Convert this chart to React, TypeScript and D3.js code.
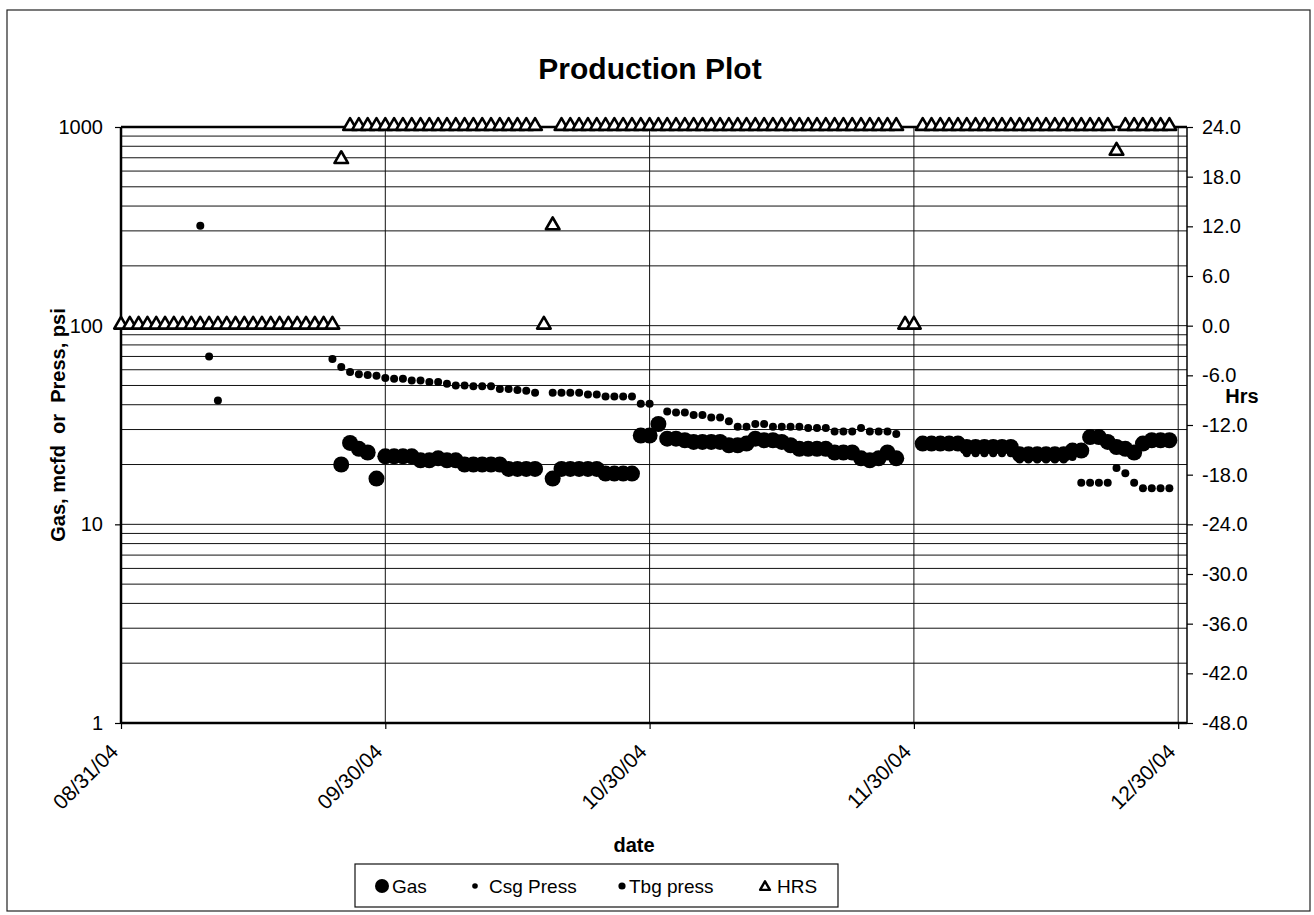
import React from "react";
import * as d3 from "d3";

// x axis is a day count from 08/31/04, labelled every 30 days
const dateLabels = ["08/31/04", "09/30/04", "10/30/04", "11/30/04", "12/30/04"];
const dateTickDays = [0, 30, 60, 90, 120];

// HRS (secondary axis), one value per day starting 08/31/04
const hrsValues = [
  0, 0, 0, 0, 0, 0, 0, 0, 0, 0, 0, 0, 0, 0, 0, 0, 0, 0, 0, 0, 0, 0, 0, 0, 0,
  20,
  24, 24, 24, 24, 24, 24, 24, 24, 24, 24, 24, 24, 24, 24, 24, 24, 24, 24, 24, 24, 24, 24,
  0, 12,
  24, 24, 24, 24, 24, 24, 24, 24, 24, 24, 24, 24, 24, 24, 24, 24, 24, 24, 24, 24,
  24, 24, 24, 24, 24, 24, 24, 24, 24, 24, 24, 24, 24, 24, 24, 24, 24, 24, 24,
  0, 0,
  24, 24, 24, 24, 24, 24, 24, 24, 24, 24, 24, 24, 24, 24, 24, 24, 24, 24, 24, 24, 24, 24,
  21,
  24, 24, 24, 24, 24, 24,
];

// Gas, mcfd from day 25
const gasStart = 25;
const gasValues: (number | null)[] = [
  20, 25.7, 24, 23, 17,
  22, 22, 22, 22,
  21, 21, 21.5, 21, 21,
  20, 20, 20, 20, 20,
  19, 19, 19, 19,
  null, 17,
  19, 19, 19, 19, 19,
  18, 18, 18, 18,
  28, 28, 32, 27, 27,
  26.5, 26, 26, 26, 26,
  25, 25, 25.5, 27, 26.5, 26.5, 26, 25,
  24, 24, 24, 24,
  23, 23, 23,
  21.5, 21, 21.5, 23, 21.5,
  null, null,
  25.5, 25.5, 25.5, 25.5, 25.5,
  24.5, 24.5, 24.5, 24.5, 24.5, 24.5,
  22.5, 22.5, 22.5, 22.5, 22.5, 22.5,
  23.5, 23.5,
  27.5, 27.5, 26, 24.5, 24, 23, 25.5, 26.5, 26.5, 26.5,
];

// Csg Press, psi from day 24
const csgStart = 24;
const csgValues: (number | null)[] = [
  68, 62, 58.5, 57, 56.5, 56, 54.6, 54, 54, 53, 53, 52, 52, 51, 50, 50,
  49.5, 49.5, 49.5, 48, 48, 47.5, 47, 46,
  null,
  46, 46, 46, 46, 45, 45, 44, 44, 44, 44, 40.5, 40.5,
  null, 37, 36.5, 36.5, 35.5, 35.5, 34.5, 34.5, 33, 31, 31, 32, 32,
  31, 31, 31, 31, 30.5, 30.5, 30.5, 29.3, 29.3, 29.3, 30.5, 29.3, 29.3, 29.3, 28.5,
  null, null,
  null, null, null, null, null,
  22.8, 22.8, 22.8, 22.8, 22.8, 22.8,
  21.2, 21.2, 21.2, 21.2, 21.2, 21.2, 21.8,
  16.2, 16.2, 16.2, 16.2, 19.2, 18.1, 16.2, 15.2, 15.2, 15.2, 15.2,
];

// Tbg press, psi from day 9
const tbgStart = 9;
const tbgValues = [318, 70, 42];

const leftTicks = [1, 10, 100, 1000];
const legendLabels = ["Gas", "Csg Press", "Tbg press", "HRS"];

const W = 1314;
const H = 915;
const plot = { left: 121, top: 127, right: 1187, bottom: 723 };
const font = "Arial, 'Liberation Sans', Helvetica, sans-serif";

type Pt = { day: number; value: number };
const toPoints = (start: number, vals: (number | null)[]): Pt[] =>
  vals
    .map((v, i) => ({ day: start + i, value: v }))
    .filter((p): p is Pt => p.value != null);

const ProductionPlot = () => {
  const svgRef = React.useRef<SVGSVGElement>(null);

  React.useEffect(() => {
    const x = d3.scaleLinear().domain([0, 121]).range([plot.left, plot.right]);
    const y = d3.scaleLog().domain([1, 1000]).range([plot.bottom, plot.top]);
    const yHrs = d3.scaleLinear().domain([-48, 24]).range([plot.bottom, plot.top]);

    const svg = d3.select(svgRef.current);
    svg.selectAll("*").remove();
    svg.attr("font-family", font);

    // outer frame
    svg.append("rect")
      .attr("x", 7).attr("y", 10).attr("width", 1303).attr("height", 901)
      .attr("fill", "#fff").attr("stroke", "#222").attr("stroke-width", 1.2);

    svg.append("text")
      .attr("x", 650).attr("y", 79)
      .attr("text-anchor", "middle")
      .attr("font-size", 30).attr("font-weight", "bold")
      .text("Production Plot");

    // horizontal log grid
    svg.append("g")
      .selectAll("line")
      .data(y.ticks())
      .join("line")
      .attr("x1", plot.left).attr("x2", plot.right)
      .attr("y1", (d) => y(d)).attr("y2", (d) => y(d))
      .attr("stroke", "#111").attr("stroke-width", 1);

    // vertical grid at date ticks
    svg.append("g")
      .selectAll("line")
      .data(dateTickDays.slice(1))
      .join("line")
      .attr("x1", (d) => x(d)).attr("x2", (d) => x(d))
      .attr("y1", plot.top).attr("y2", plot.bottom)
      .attr("stroke", "#111").attr("stroke-width", 1);

    // plot frame
    svg.append("line").attr("x1", plot.left).attr("x2", plot.right)
      .attr("y1", plot.top).attr("y2", plot.top)
      .attr("stroke", "#000").attr("stroke-width", 2.5);
    svg.append("line").attr("x1", plot.left).attr("x2", plot.right)
      .attr("y1", plot.bottom).attr("y2", plot.bottom)
      .attr("stroke", "#000").attr("stroke-width", 2.5);
    svg.append("line").attr("x1", plot.left).attr("x2", plot.left)
      .attr("y1", plot.top).attr("y2", plot.bottom)
      .attr("stroke", "#000").attr("stroke-width", 2.5);
    svg.append("line").attr("x1", plot.right).attr("x2", plot.right)
      .attr("y1", plot.top).attr("y2", plot.bottom)
      .attr("stroke", "#000").attr("stroke-width", 1.5);

    // left axis
    const yAxis = d3.axisLeft(y)
      .tickValues(leftTicks)
      .tickFormat(d3.format("d"))
      .tickSize(6)
      .tickPadding(12);
    const yAxisG = svg.append("g")
      .attr("transform", `translate(${plot.left},0)`)
      .call(yAxis);
    yAxisG.select(".domain").remove();
    yAxisG.selectAll("line").attr("stroke", "#000").attr("stroke-width", 1.2);
    yAxisG.selectAll("text")
      .attr("font-size", 20).attr("font-family", font).attr("fill", "#000");

    // right axis (HRS)
    const hrsAxis = d3.axisRight(yHrs)
      .tickValues(d3.range(-48, 25, 6))
      .tickFormat(d3.format(".1f"))
      .tickSize(6)
      .tickPadding(9);
    const hrsAxisG = svg.append("g")
      .attr("transform", `translate(${plot.right},0)`)
      .call(hrsAxis);
    hrsAxisG.select(".domain").remove();
    hrsAxisG.selectAll("line").attr("stroke", "#000").attr("stroke-width", 1.2);
    hrsAxisG.selectAll("text")
      .attr("font-size", 20).attr("font-family", font).attr("fill", "#000")
      .text((d: any) => d3.format(".1f")(d).replace("−", "-"));

    // bottom axis
    const xAxis = d3.axisBottom(x)
      .tickValues(dateTickDays)
      .tickFormat((_, i) => dateLabels[i])
      .tickSize(6);
    const xAxisG = svg.append("g")
      .attr("transform", `translate(0,${plot.bottom})`)
      .call(xAxis);
    xAxisG.select(".domain").remove();
    xAxisG.selectAll("line").attr("stroke", "#000").attr("stroke-width", 1.2);
    xAxisG.selectAll("text")
      .attr("font-size", 21).attr("font-family", font).attr("fill", "#000")
      .attr("text-anchor", "end")
      .attr("x", 0).attr("y", 0).attr("dy", 0)
      .attr("transform", "translate(-2,30) rotate(-45)");

    // axis titles
    svg.append("text")
      .attr("transform", "translate(65,425) rotate(-90)")
      .attr("text-anchor", "middle")
      .attr("font-size", 20).attr("font-weight", "bold")
      .style("white-space", "pre")
      .text("Gas, mcfd  or  Press, psi");
    svg.append("text")
      .attr("x", 1242).attr("y", 403)
      .attr("text-anchor", "middle")
      .attr("font-size", 20).attr("font-weight", "bold")
      .text("Hrs");
    svg.append("text")
      .attr("x", 634).attr("y", 852)
      .attr("text-anchor", "middle")
      .attr("font-size", 20).attr("font-weight", "bold")
      .text("date");

    // series
    const gasPts = toPoints(gasStart, gasValues);
    const csgPts = toPoints(csgStart, csgValues);
    const tbgPts = toPoints(tbgStart, tbgValues);
    const hrsPts = toPoints(0, hrsValues);

    svg.append("g").selectAll("circle")
      .data(gasPts).join("circle")
      .attr("cx", (d) => x(d.day)).attr("cy", (d) => y(d.value))
      .attr("r", 8).attr("fill", "#000");
    svg.append("g").selectAll("circle")
      .data(csgPts).join("circle")
      .attr("cx", (d) => x(d.day)).attr("cy", (d) => y(d.value))
      .attr("r", 4).attr("fill", "#000");
    svg.append("g").selectAll("circle")
      .data(tbgPts).join("circle")
      .attr("cx", (d) => x(d.day)).attr("cy", (d) => y(d.value))
      .attr("r", 4).attr("fill", "#000");

    const tri = d3.symbol(d3.symbolTriangle).size(80);
    svg.append("g").selectAll("path")
      .data(hrsPts).join("path")
      .attr("transform", (d) => `translate(${x(d.day)},${yHrs(d.value) - 1})`)
      .attr("d", tri())
      .attr("fill", "#fff").attr("stroke", "#000").attr("stroke-width", 2.6)
      .attr("stroke-linejoin", "round");

    // legend
    const lg = svg.append("g");
    lg.append("rect")
      .attr("x", 355).attr("y", 864).attr("width", 483).attr("height", 43)
      .attr("fill", "#fff").attr("stroke", "#111").attr("stroke-width", 1.2);
    const legendX = [382, 475, 622, 765];
    const textX = [392, 489, 629, 777];
    lg.append("circle").attr("cx", legendX[0]).attr("cy", 886).attr("r", 7).attr("fill", "#000");
    lg.append("circle").attr("cx", legendX[1]).attr("cy", 886).attr("r", 2.8).attr("fill", "#000");
    lg.append("circle").attr("cx", legendX[2]).attr("cy", 886).attr("r", 3.6).attr("fill", "#000");
    lg.append("path")
      .attr("transform", `translate(${legendX[3]},887)`)
      .attr("d", d3.symbol(d3.symbolTriangle).size(42)())
      .attr("fill", "#fff").attr("stroke", "#000").attr("stroke-width", 2.4)
      .attr("stroke-linejoin", "round");
    lg.selectAll("text.lab")
      .data(legendLabels).join("text")
      .attr("class", "lab")
      .attr("x", (_, i) => textX[i]).attr("y", 893)
      .attr("font-size", 19)
      .text((d) => d);
  }, []);

  return (
    <svg
      ref={svgRef}
      width={W}
      height={H}
      style={{ position: "absolute", left: 0, top: 0, background: "#fff" }}
    />
  );
};

export default function App() {
  return <ProductionPlot />;
}
